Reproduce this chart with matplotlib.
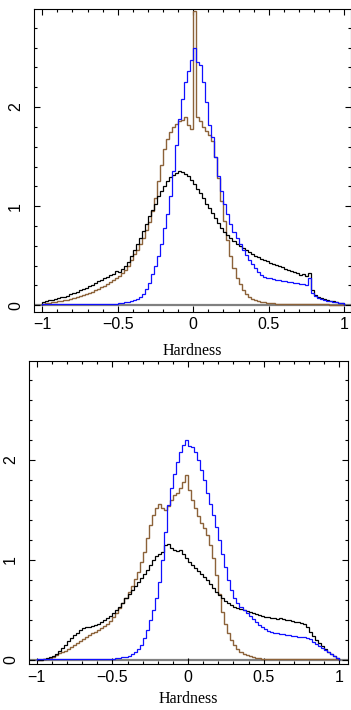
import numpy as np
import matplotlib.pyplot as plt
from matplotlib.ticker import MultipleLocator

# bin edges of the hardness histograms (width 0.02)
edges = np.linspace(-1, 1, 101)

# top panel
top_black = [
    0.03, 0.04, 0.05, 0.05, 0.06, 0.07, 0.08, 0.08, 0.09, 0.11,
    0.12, 0.13, 0.15, 0.16, 0.17, 0.19, 0.20, 0.22, 0.24, 0.25,
    0.27, 0.29, 0.31, 0.32, 0.35, 0.34, 0.37, 0.40, 0.44, 0.50,
    0.56, 0.62, 0.68, 0.75, 0.82, 0.90, 0.96, 1.02, 1.10, 1.15,
    1.20, 1.25, 1.29, 1.31, 1.33, 1.35, 1.34, 1.32, 1.30, 1.26,
    1.22, 1.17, 1.13, 1.08, 1.02, 0.98, 0.93, 0.88, 0.83, 0.78,
    0.74, 0.71, 0.68, 0.65, 0.62, 0.60, 0.58, 0.56, 0.54, 0.52,
    0.50, 0.49, 0.47, 0.46, 0.45, 0.43, 0.42, 0.41, 0.40, 0.39,
    0.37, 0.36, 0.35, 0.34, 0.33, 0.31, 0.32, 0.30, 0.33, 0.15,
    0.10, 0.08, 0.07, 0.06, 0.05, 0.04, 0.04, 0.03, 0.02, 0.02,
]
top_brown = [
    0.01, 0.02, 0.02, 0.03, 0.03, 0.04, 0.04, 0.05, 0.05, 0.06,
    0.07, 0.08, 0.09, 0.10, 0.11, 0.12, 0.13, 0.15, 0.16, 0.18,
    0.19, 0.21, 0.23, 0.25, 0.28, 0.30, 0.33, 0.36, 0.40, 0.46,
    0.52, 0.56, 0.62, 0.68, 0.76, 0.84, 0.95, 1.08, 1.25, 1.42,
    1.58, 1.68, 1.75, 1.80, 1.83, 1.86, 1.87, 1.90, 1.82, 1.78,
    2.97, 1.90, 1.86, 1.80, 1.76, 1.72, 1.66, 1.50, 1.28, 1.05,
    0.85, 0.66, 0.50, 0.38, 0.28, 0.21, 0.15, 0.11, 0.08, 0.06,
    0.05, 0.04, 0.035, 0.03, 0.025, 0.02, 0.02, 0.015, 0.015, 0.01,
    0.01, 0.01, 0.01, 0.01, 0.01, 0.01, 0.01, 0.01, 0.01, 0.01,
    0.01, 0.01, 0.01, 0.01, 0.01, 0.005, 0.005, 0.005, 0.005, 0.005,
]
top_blue = [
    0.01, 0.01, 0.01, 0.01, 0.01, 0.01, 0.01, 0.01, 0.01, 0.01,
    0.01, 0.01, 0.01, 0.01, 0.01, 0.01, 0.01, 0.01, 0.01, 0.01,
    0.01, 0.01, 0.01, 0.01, 0.015, 0.02, 0.02, 0.03, 0.035, 0.04,
    0.05, 0.06, 0.08, 0.11, 0.16, 0.22, 0.32, 0.40, 0.50, 0.62,
    0.78, 0.92, 1.10, 1.35, 1.62, 1.88, 2.08, 2.25, 2.36, 2.48,
    2.60, 2.46, 2.42, 2.25, 2.05, 1.82, 1.70, 1.50, 1.30, 1.15,
    1.02, 0.92, 0.82, 0.74, 0.68, 0.62, 0.56, 0.51, 0.46, 0.42,
    0.38, 0.34, 0.31, 0.29, 0.28, 0.27, 0.26, 0.25, 0.25, 0.24,
    0.24, 0.23, 0.23, 0.22, 0.22, 0.21, 0.21, 0.20, 0.27, 0.12,
    0.09, 0.07, 0.06, 0.05, 0.04, 0.04, 0.03, 0.03, 0.02, 0.02,
]

# bottom panel
bot_black = [
    0.0, 0.0, 0.01, 0.02, 0.03, 0.04, 0.06, 0.09, 0.12, 0.15,
    0.19, 0.22, 0.25, 0.27, 0.30, 0.32, 0.33, 0.33, 0.34, 0.35,
    0.36, 0.38, 0.40, 0.42, 0.44, 0.47, 0.50, 0.53, 0.57, 0.62,
    0.66, 0.70, 0.74, 0.78, 0.82, 0.86, 0.90, 0.95, 1.00, 1.04,
    1.06, 1.08, 1.15, 1.16, 1.12, 1.10, 1.09, 1.10, 1.06, 1.02,
    0.98, 0.95, 0.92, 0.89, 0.86, 0.83, 0.80, 0.76, 0.72, 0.68,
    0.65, 0.62, 0.59, 0.57, 0.55, 0.53, 0.52, 0.51, 0.50, 0.49,
    0.48, 0.47, 0.46, 0.45, 0.44, 0.43, 0.43, 0.42, 0.42, 0.41,
    0.42, 0.41, 0.40, 0.40, 0.39, 0.38, 0.38, 0.37, 0.36, 0.33,
    0.28, 0.24, 0.20, 0.17, 0.14, 0.11, 0.08, 0.06, 0.04, 0.02,
]
bot_brown = [
    0.0, 0.0, 0.005, 0.01, 0.02, 0.03, 0.05, 0.07, 0.08, 0.09,
    0.11, 0.13, 0.15, 0.17, 0.19, 0.21, 0.23, 0.25, 0.27, 0.28,
    0.30, 0.32, 0.34, 0.36, 0.39, 0.43, 0.47, 0.52, 0.57, 0.62,
    0.68, 0.74, 0.81, 0.88, 0.98, 1.08, 1.22, 1.35, 1.45, 1.52,
    1.56, 1.52, 1.50, 1.54, 1.60, 1.65, 1.67, 1.72, 1.78, 1.85,
    1.70, 1.60, 1.52, 1.44, 1.37, 1.32, 1.25, 1.15, 1.02, 0.85,
    0.66, 0.48, 0.36, 0.27, 0.20, 0.15, 0.11, 0.08, 0.06, 0.05,
    0.04, 0.03, 0.02, 0.015, 0.01, 0.01, 0.01, 0.005, 0.005, 0.005,
    0.005, 0.005, 0.005, 0.005, 0.005, 0.005, 0.005, 0.005, 0.005, 0.005,
    0.005, 0.005, 0.005, 0.005, 0.005, 0.005, 0.005, 0.005, 0.005, 0.005,
]
bot_blue = [
    0.005, 0.005, 0.005, 0.005, 0.005, 0.005, 0.005, 0.005, 0.005, 0.005,
    0.005, 0.005, 0.005, 0.005, 0.005, 0.005, 0.005, 0.005, 0.005, 0.005,
    0.005, 0.005, 0.005, 0.005, 0.005, 0.01, 0.015, 0.02, 0.025, 0.03,
    0.04, 0.06, 0.08, 0.11, 0.15, 0.22, 0.30, 0.40, 0.50, 0.62,
    0.78, 1.00, 1.28, 1.55, 1.72, 1.86, 1.98, 2.08, 2.15, 2.20,
    2.14, 2.13, 2.08, 2.00, 1.90, 1.80, 1.67, 1.56, 1.45, 1.33,
    1.20, 1.06, 0.93, 0.80, 0.70, 0.62, 0.57, 0.53, 0.50, 0.47,
    0.44, 0.41, 0.38, 0.35, 0.33, 0.31, 0.29, 0.28, 0.27, 0.27,
    0.26, 0.26, 0.25, 0.25, 0.24, 0.24, 0.23, 0.23, 0.23, 0.22,
    0.21, 0.18, 0.16, 0.14, 0.12, 0.10, 0.08, 0.06, 0.04, 0.02,
]

brown = '#8c6239'
blue = '#1010ff'

plt.rcParams['font.family'] = ['Liberation Sans', 'DejaVu Sans']

fig = plt.figure(figsize=(3.51, 7.10), dpi=100)
ax1 = fig.add_axes([0.0977, 0.561, 0.9023, 0.4263])
ax2 = fig.add_axes([0.0826, 0.0648, 0.9097, 0.4268])

panels = [
    (ax1, top_black, top_brown, top_blue, (-1.053, 1.045), (-0.065, 2.99), 8),
    (ax2, bot_black, bot_brown, bot_blue, (-1.051, 1.059), (-0.04, 2.99), 5),
]

for ax, blk, brn, blu, xl, yl, lpad in panels:
    ax.axhline(0, color='#808080', lw=1.6, zorder=1)
    ax.stairs(brn, edges, color=brown, lw=1.0, zorder=2)
    ax.stairs(blk, edges, color='black', lw=0.9, zorder=3)
    ax.stairs(blu, edges, color=blue, lw=0.9, zorder=4)
    ax.set_xlim(*xl)
    ax.set_ylim(*yl)
    ax.xaxis.set_major_locator(MultipleLocator(0.5))
    ax.xaxis.set_minor_locator(MultipleLocator(0.1))
    ax.yaxis.set_major_locator(MultipleLocator(1))
    ax.yaxis.set_minor_locator(MultipleLocator(0.2))
    ax.xaxis.set_major_formatter(lambda v, p: ('%g' % v).replace('-', '\u2212'))
    ax.tick_params(which='both', direction='in', top=True, right=True, width=0.8)
    ax.tick_params(which='major', length=4, labelsize=11.5)
    ax.tick_params(which='minor', length=2.5)
    ax.tick_params(axis='x', pad=4)
    ax.tick_params(axis='y', pad=8)
    for lab in ax.get_yticklabels():
        lab.set_rotation(90)
        lab.set_va('center')
    for s in ax.spines.values():
        s.set_linewidth(0.8)
    ax.set_xlabel('Hardness', family=['Liberation Serif'], fontsize=11.5, labelpad=lpad)

fig.savefig('out.png', dpi=100)
